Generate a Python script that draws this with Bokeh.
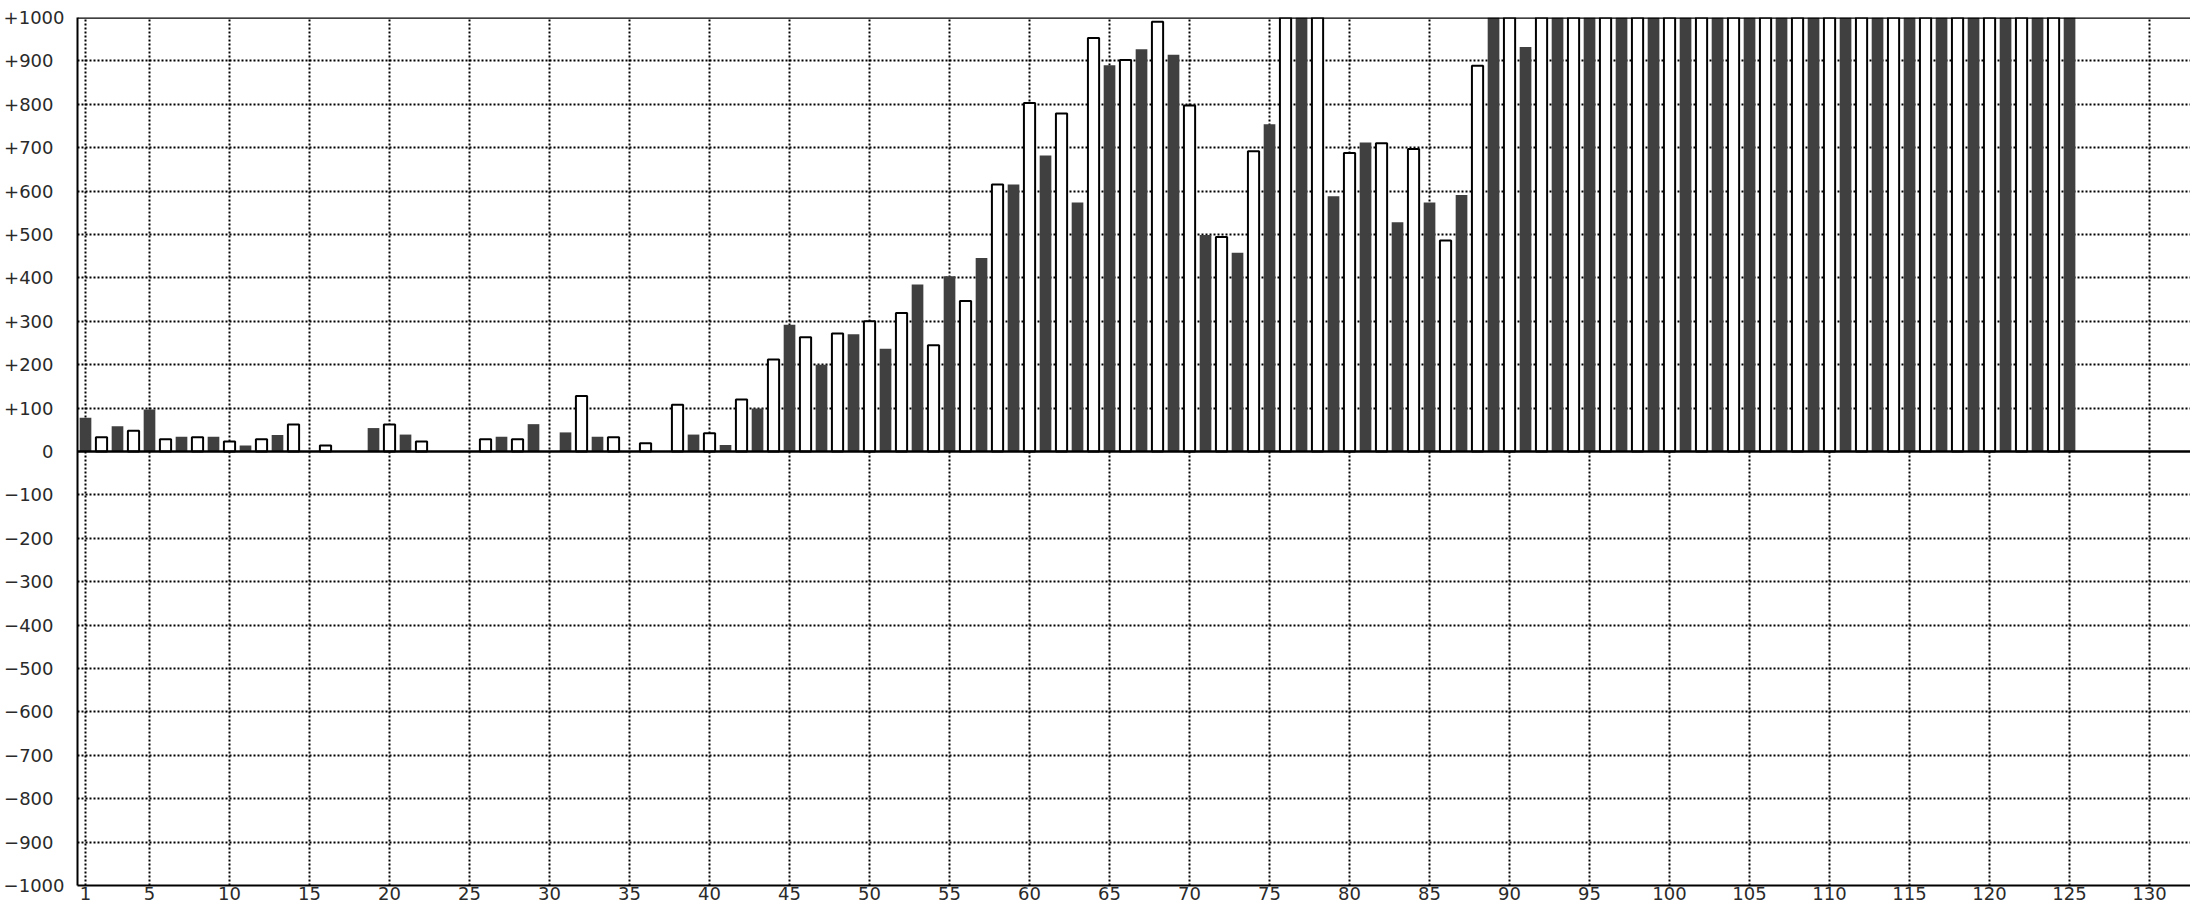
from bokeh.plotting import figure
from bokeh.models import Range1d, FixedTicker, Span, ColumnDataSource, LinearAxis
from bokeh.embed import file_html
from bokeh.resources import INLINE

# ---- data ----
# dark bars sit on odd positions 1,3,...,125 ; white bars on even positions 2,4,...,124
dark_x = list(range(1, 126, 2))
dark_values = [78, 58, 97, 34, 34, 14, 38, 0, 0, 54,
               39, 0, 0, 34, 63, 44, 34, 0, 0, 39,
               15, 99, 292, 200, 270, 237, 385, 404, 446, 615,
               682, 574, 890, 927, 914, 499, 458, 754, 1100, 588,
               712, 528, 574, 591, 1100, 932, 1100, 1100, 1100, 1100,
               1100, 1100, 1100, 1100, 1100, 1100, 1100, 1100, 1100, 1100,
               1100, 1100, 1100]
white_x = list(range(2, 125, 2))
white_values = [33, 48, 28, 33, 23, 28, 62, 14, 0, 62,
                23, 0, 28, 28, 0, 128, 33, 19, 108, 42,
                120, 212, 263, 272, 300, 319, 245, 347, 615, 803,
                779, 953, 902, 990, 797, 494, 692, 1100, 1100, 688,
                710, 697, 486, 889, 1100, 1100, 1100, 1100, 1100, 1100,
                1100, 1100, 1100, 1100, 1100, 1100, 1100, 1100, 1100, 1100,
                1100, 1100]
x_ticks = [1, 5, 10, 15, 20, 25, 30, 35, 40, 45, 50, 55, 60, 65, 70, 75, 80, 85,
           90, 95, 100, 105, 110, 115, 120, 125, 130]
y_ticks = [-1000, -900, -800, -700, -600, -500, -400, -300, -200, -100, 0,
           100, 200, 300, 400, 500, 600, 700, 800, 900, 1000]
y_tick_labels = ["\u22121000", "\u2212900", "\u2212800", "\u2212700", "\u2212600", "\u2212500",
                 "\u2212400", "\u2212300", "\u2212200", "\u2212100", "0",
                 "+100", "+200", "+300", "+400", "+500", "+600", "+700", "+800", "+900", "+1000"]

FONT = "DejaVu Sans"
FSIZE = "18px"
LBL_COLOR = "#2a2a2a"
X_START, X_END = 0.5, 132.56

dark_src = ColumnDataSource(dict(
    x=[x for x, v in zip(dark_x, dark_values) if v != 0],
    top=[v for v in dark_values if v != 0]))
white_src = ColumnDataSource(dict(
    x=[x for x, v in zip(white_x, white_values) if v != 0],
    top=[v for v in white_values if v != 0]))

p = figure(width=2190, height=902, output_backend="svg", toolbar_location=None,
           x_range=Range1d(X_START, X_END), y_range=Range1d(-1000, 1000),
           min_border_left=0, min_border_right=0, min_border_top=17, min_border_bottom=0,
           background_fill_color="white", border_fill_color="white")
p.outline_line_color = None

# grid
p.xgrid.ticker = FixedTicker(ticks=x_ticks)
p.ygrid.ticker = FixedTicker(ticks=[t for t in y_ticks if t not in (0, -1000, 1000)])
for g in (p.xgrid, p.ygrid):
    g.grid_line_color = "black"
    g.grid_line_width = 2
    g.grid_line_dash = "2 2"
    g.level = "underlay"

# bars
p.vbar(x="x", top="top", bottom=0, width=0.73, source=dark_src,
       fill_color="#404040", line_color=None)
p.vbar(x="x", top="top", bottom=0, width=0.70, source=white_src,
       fill_color="white", line_color="black", line_width=2)

# zero line and top border of the frame
p.add_layout(Span(location=0, dimension="width", line_color="black", line_width=2.5))
p.add_layout(Span(location=1000, dimension="width", line_color="black", line_width=2.5))

# axes
xa = p.xaxis[0]
xa.ticker = FixedTicker(ticks=x_ticks)
ya = p.yaxis[0]
ya.ticker = FixedTicker(ticks=[t for t in y_ticks if abs(t) != 1000])
ya.major_label_overrides = {t: l for t, l in zip(y_ticks, y_tick_labels) if abs(t) != 1000}

# outer axis that only carries the two end labels, taking (almost) no room of its own
ya_end = LinearAxis(ticker=FixedTicker(ticks=[t for t in y_ticks if abs(t) == 1000]),
                    major_label_overrides={t: l for t, l in zip(y_ticks, y_tick_labels) if abs(t) == 1000})
p.add_layout(ya_end, "left")

for ax in (xa, ya, ya_end):
    ax.axis_line_color = "black"
    ax.axis_line_width = 2
    ax.major_tick_line_color = None
    ax.minor_tick_line_color = None
    ax.major_tick_out = 0
    ax.major_tick_in = 0
    ax.minor_tick_out = 0
    ax.minor_tick_in = 0
    ax.major_label_text_font = FONT
    ax.major_label_text_font_size = FSIZE
    ax.major_label_text_color = LBL_COLOR
ya_end.axis_line_color = None
xa.major_label_standoff = 1
ya.major_label_standoff = 24
ya_end.major_label_standoff = -63

open("out.html", "w").write(file_html(p, INLINE))
